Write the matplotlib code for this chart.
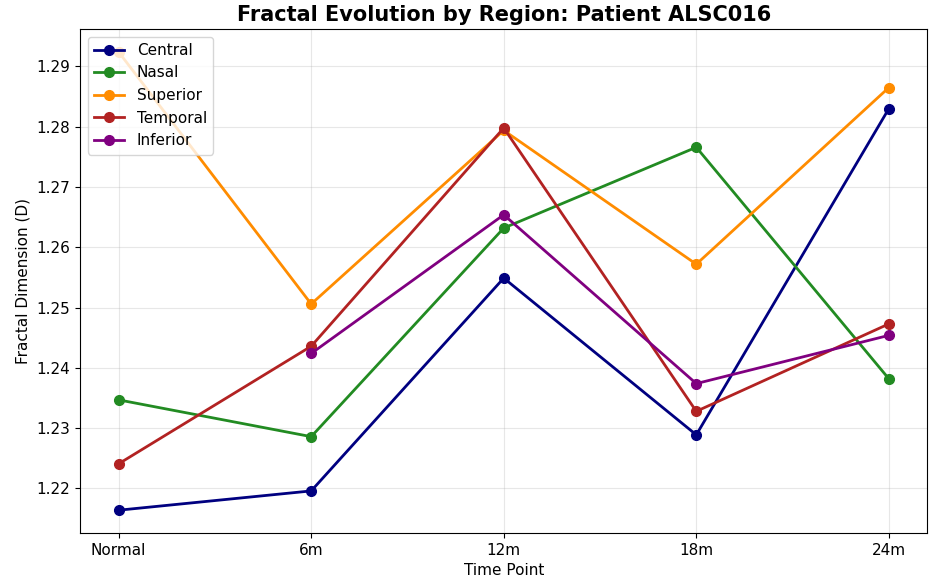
import numpy as np
import matplotlib.pyplot as plt

# time points and fractal dimension per region
timePoints = ['Normal', '6m', '12m', '18m', '24m']

central = [1.2164, 1.2196, 1.2549, 1.2289, 1.2830]
nasal = [1.2347, 1.2286, 1.2632, 1.2766, 1.2382]
superior = [1.2924, 1.2506, 1.2794, 1.2572, 1.2865]
temporal = [1.2241, 1.2436, 1.2798, 1.2328, 1.2473]
inferior = [np.nan, 1.2424, 1.2654, 1.2374, 1.2454]

regions = ['Central', 'Nasal', 'Superior', 'Temporal', 'Inferior']
colors = ['navy', 'forestgreen', 'darkorange', 'firebrick', 'purple']
series = [central, nasal, superior, temporal, inferior]

########## Plotting ##########

fig, ax = plt.subplots(figsize=(9.32, 5.82), dpi=100)
plt.subplots_adjust(left=0.086, right=0.995, top=0.950, bottom=0.084)

x = np.arange(len(timePoints))
for name, col, vals in zip(regions, colors, series):
    ax.plot(x, vals, marker='o', color=col, linewidth=2, markersize=7, label=name)

ax.set_xticks(x)
ax.set_xticklabels(timePoints, fontsize=11)
ax.tick_params(axis='y', labelsize=11)
ax.set_xlabel('Time Point', fontsize=11)
ax.set_ylabel('Fractal Dimension (D)', fontsize=11)
ax.set_title('Fractal Evolution by Region: Patient ALSC016', fontsize=15, weight='bold')
ax.grid(True, alpha=0.3)
ax.legend(loc='upper left', fontsize=11)

plt.savefig('out.png', dpi=100)
